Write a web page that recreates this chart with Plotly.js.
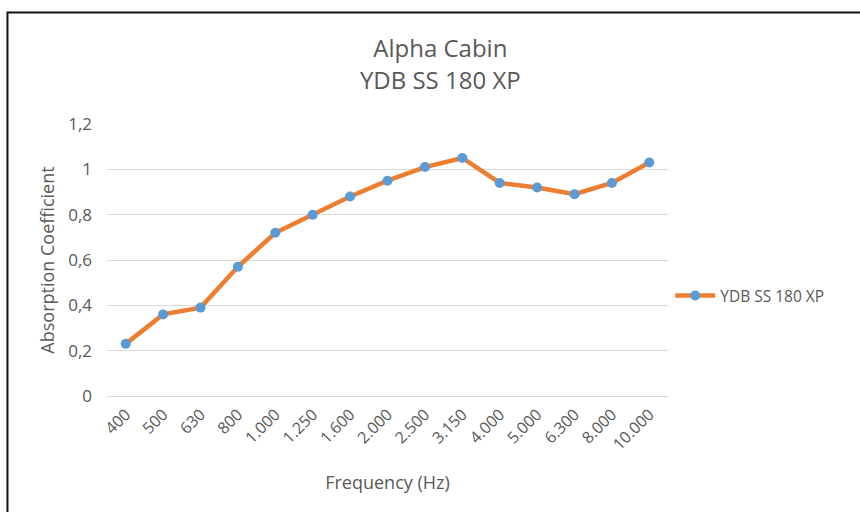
<!DOCTYPE html>
<html>
<head>
<meta charset="utf-8">
<script src="https://cdn.plot.ly/plotly-3.0.1.min.js"></script>
<style>
  html, body { margin: 0; padding: 0; background: #fff; }
  #chart { width: 860px; height: 512px; }
</style>
</head>
<body>
<div id="chart"></div>
<script>
// Frequency bands (tick labels, as printed with dot thousands separator)
var frequencies = ["400", "500", "630", "800", "1.000", "1.250", "1.600", "2.000", "2.500", "3.150", "4.000", "5.000", "6.300", "8.000", "10.000"];
// Absorption coefficient values
var absorption = [0.23, 0.36, 0.39, 0.57, 0.72, 0.80, 0.88, 0.95, 1.01, 1.05, 0.94, 0.92, 0.89, 0.94, 1.03];
var seriesName = "YDB SS 180 XP";
var chartTitle = "Alpha Cabin<br>YDB SS 180 XP";
var xTitle = "Frequency (Hz)";
var yTitle = "Absorption Coefficient";

var textColor = "#595959";
var gridColor = "#d9d9d9";
var fontFamily = "'Open Sans', 'Liberation Sans', sans-serif";

var trace = {
  type: "scatter",
  mode: "lines+markers",
  name: seriesName,
  x: frequencies,
  y: absorption,
  line: { color: "#ED7D31", width: 4.5 },
  marker: { color: "#5B9BD5", size: 10 },
  cliponaxis: false
};

var layout = {
  width: 860,
  height: 512,
  paper_bgcolor: "#ffffff",
  plot_bgcolor: "#ffffff",
  separators: ",.",
  font: { family: fontFamily, color: textColor, size: 16 },
  margin: { l: 107, r: 192, t: 124, b: 116, autoexpand: false },
  title: {
    text: chartTitle,
    font: { family: fontFamily, size: 24, color: textColor },
    x: 0.512, xanchor: "center", xref: "container",
    y: 0.888, yanchor: "middle", yref: "container"
  },
  xaxis: {
    type: "category",
    range: [-0.5, frequencies.length - 0.5],
    tickangle: -45,
    showgrid: false,
    showline: false,
    zeroline: false,
    ticks: "",
    ticklabelstandoff: 5,
    tickfont: { family: fontFamily, size: 16, color: textColor },
    automargin: false,
    title: { text: xTitle, font: { family: fontFamily, size: 18, color: textColor }, standoff: 22 }
  },
  yaxis: {
    range: [0, 1.2],
    dtick: 0.2,
    tick0: 0,
    showgrid: true,
    gridcolor: gridColor,
    gridwidth: 1,
    zeroline: true,
    zerolinecolor: gridColor,
    zerolinewidth: 1,
    showline: false,
    ticks: "",
    ticklabelstandoff: 14,
    tickfont: { family: fontFamily, size: 17, color: textColor },
    automargin: false,
    title: { text: yTitle, font: { family: fontFamily, size: 18, color: textColor }, standoff: 8 }
  },
  showlegend: true,
  legend: {
    x: 1.004, xanchor: "left",
    y: 0.368, yanchor: "middle",
    font: { family: fontFamily, size: 15.5, color: textColor },
    bgcolor: "rgba(0,0,0,0)",
    itemwidth: 40
  },
  shapes: [{
    type: "path",
    xref: "paper", yref: "paper",
    path: "M -0.1774 -1 L -0.1774 1.4099 L 2 1.4099",
    line: { color: "#111111", width: 2 },
    layer: "above"
  }]
};

Plotly.newPlot("chart", [trace], layout, { displayModeBar: false, staticPlot: true });
</script>
</body>
</html>
